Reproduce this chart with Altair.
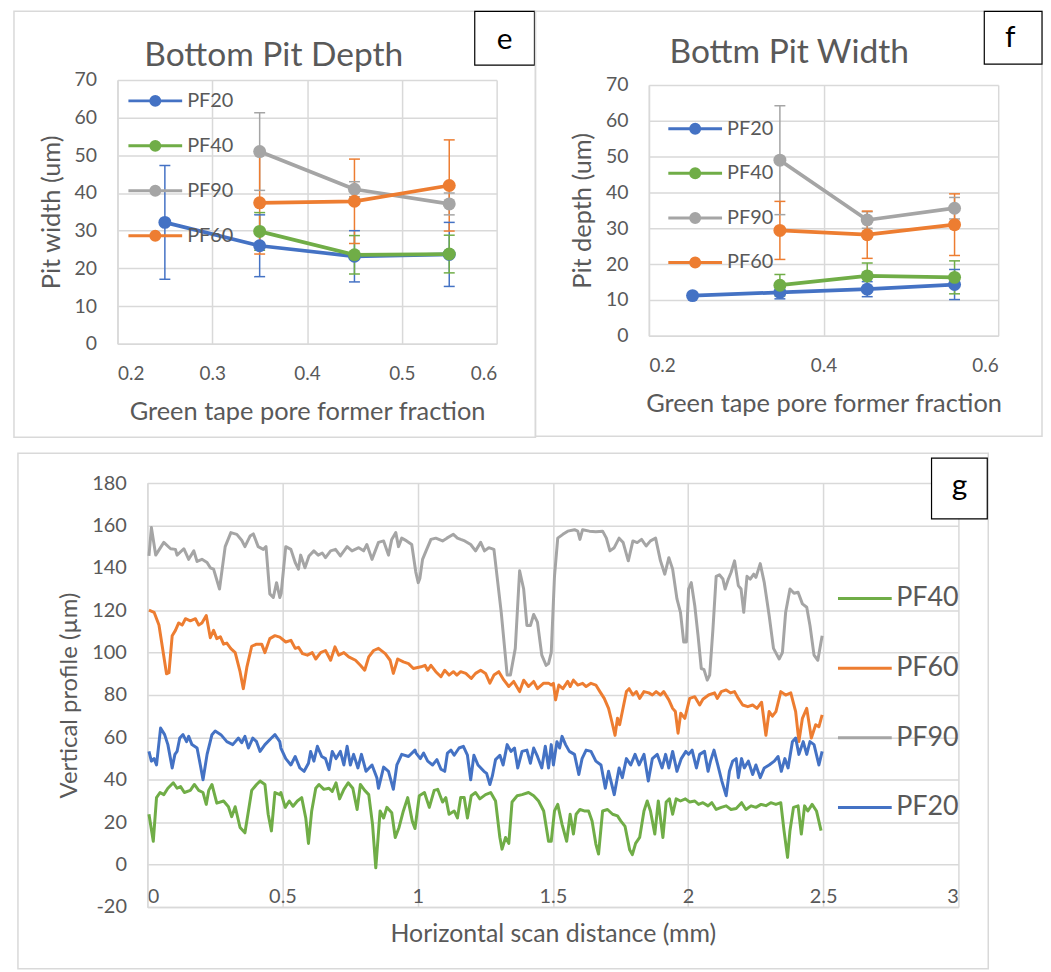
import altair as alt
import pandas as pd

FONT = "Lato"
TXT = "#595959"
GRID = "#D9D9D9"

# ---------------- panel e / f data ----------------
series_ef = ["PF20", "PF40", "PF90", "PF60"]
colors_ef = ["#4472C4", "#70AD47", "#A5A5A5", "#ED7D31"]

e_pf20_x = [0.25, 0.35, 0.45, 0.55]
e_pf20_y = [32.2, 26.0, 23.2, 23.7]
e_pf20_err = [15.1, 8.2, 6.8, 8.5]
e_pf40_x = [0.35, 0.45, 0.55]
e_pf40_y = [29.8, 23.6, 23.8]
e_pf40_err = [5.0, 5.1, 5.0]
e_pf90_x = [0.35, 0.45, 0.55]
e_pf90_y = [51.0, 41.0, 37.1]
e_pf90_err = [10.3, 2.0, 2.9]
e_pf60_x = [0.35, 0.45, 0.55]
e_pf60_y = [37.4, 37.8, 42.0]
e_pf60_err = [13.6, 11.2, 12.1]

f_pf20_x = [0.25, 0.35, 0.45, 0.55]
f_pf20_y = [11.2, 12.1, 13.0, 14.3]
f_pf20_err = [0.0, 1.8, 2.1, 4.2]
f_pf40_x = [0.35, 0.45, 0.55]
f_pf40_y = [14.1, 16.7, 16.3]
f_pf40_err = [3.0, 3.6, 4.6]
f_pf90_x = [0.35, 0.45, 0.55]
f_pf90_y = [49.0, 32.3, 35.6]
f_pf90_err = [15.2, 2.3, 3.0]
f_pf60_x = [0.35, 0.45, 0.55]
f_pf60_y = [29.4, 28.2, 31.0]
f_pf60_err = [8.1, 6.6, 8.6]

ef_ticks_e = [0.2, 0.3, 0.4, 0.5, 0.6]
ef_ticks_f = [0.2, 0.4, 0.6]
ef_yticks = [0, 10, 20, 30, 40, 50, 60, 70]

# ---------------- panel g data (x in mm, y in um) ----------------
series_g = ["PF40", "PF60", "PF90", "PF20"]
colors_g = ["#70AD47", "#ED7D31", "#A5A5A5", "#4472C4"]

pf90_pts = [
    (0.006,145.6),(0.015,159),(0.031,146),(0.061,152),(0.086,149),(0.104,148.7),(0.110,146),(0.135,149),
    (0.153,144),(0.172,148),(0.184,143),(0.202,144),(0.221,142.5),(0.233,140),(0.245,139.4),(0.267,130),
    (0.288,150),(0.309,156.6),(0.331,155.8),(0.349,153),(0.361,150),(0.380,155),(0.392,156),(0.410,150),
    (0.429,148.7),(0.439,150),(0.453,127.7),(0.466,126),(0.478,133),(0.490,126),
    (0.495,128),(0.512,150),(0.531,148.7),(0.547,142.5),(0.559,139.4),(0.567,146),(0.583,140),(0.598,145.6),
    (0.616,148),(0.632,146),(0.647,147),(0.659,144.8),(0.678,148),(0.696,148.7),(0.714,145.6),(0.739,150),
    (0.757,148),(0.782,149.5),(0.800,148),(0.812,151),(0.831,144),(0.855,152),(0.874,152.7),(0.892,146),
    (0.904,153.4),(0.919,156.6),(0.929,150),(0.941,154),(0.959,152.7),(0.978,151),(0.993,138),
    (1.002,133),(1.008,135),(1.018,144),(1.031,148),(1.049,153.4),(1.067,154),(1.092,152.7),(1.108,154),
    (1.132,155.8),(1.147,154),(1.159,153.4),(1.174,152.7),(1.196,151),(1.214,148),(1.233,152),(1.247,148),
    (1.263,149.5),(1.282,148.7),(1.309,119),(1.331,89.4),(1.343,89.4),(1.361,102),(1.377,138.6),(1.392,130),
    (1.404,112.8),(1.417,112.8),(1.429,118),(1.443,114.4),(1.459,98.8),(1.475,94),(1.484,94.8),
    (1.494,100),(1.506,136),(1.518,154),(1.537,155.8),(1.555,157.3),(1.580,158),(1.592,157.3),(1.600,153.4),
    (1.610,158),(1.635,157.3),(1.659,157),(1.684,157.3),(1.698,154),(1.711,148),(1.727,149.5),(1.745,154),
    (1.760,151.9),(1.779,143.3),(1.796,152.7),(1.812,151.9),(1.828,153.4),(1.845,150.3),(1.861,152.7),
    (1.880,154),(1.898,143.3),(1.914,137),(1.929,144.8),(1.943,139.4),(1.959,125.3),(1.972,119),(1.984,105),
    (1.994,105),(2.002,130),(2.012,133),(2.025,122),(2.037,108),(2.049,92.5),(2.059,92),(2.071,87),(2.080,89.4),
    (2.092,111),(2.104,136),(2.116,136.7),(2.129,134.7),(2.137,130),(2.149,134.7),(2.159,137.8),(2.172,143.3),
    (2.186,131.6),(2.196,130),(2.206,119),(2.218,136),(2.230,134.7),(2.243,137),(2.251,135.5),(2.267,142),
    (2.282,133),(2.300,117.5),(2.316,102),(2.337,97),(2.349,100),(2.361,119),(2.377,130),(2.392,128),
    (2.407,128.5),(2.423,123),(2.439,121.4),(2.451,112.8),(2.466,98.8),(2.480,96.4),(2.496,108),
]

pf60_pts = [
    (0.006,120),(0.025,119),(0.043,113),(0.071,90),(0.080,90.5),(0.092,108),(0.104,110.5),(0.116,114),
    (0.129,113),(0.141,116),(0.159,115),(0.178,116),(0.190,113),(0.202,114),(0.218,117.5),(0.233,107),
    (0.245,110.5),(0.257,106.6),(0.270,107.5),(0.282,104),(0.294,104.5),(0.309,101.9),(0.325,100),(0.343,91),
    (0.355,83),(0.368,93),(0.386,103),(0.404,104),(0.423,104),(0.435,100),(0.453,106.6),(0.472,108),(0.490,107.3),
    (0.512,105),(0.531,105.8),(0.547,102),(0.559,102.5),(0.574,99.5),(0.592,98.8),(0.610,100),(0.623,97),
    (0.641,100),(0.659,101),(0.678,96.4),(0.694,102.7),(0.708,98.8),(0.727,100),(0.745,98),(0.770,96.4),
    (0.788,94),(0.804,91.7),(0.819,98),(0.837,101),(0.855,102),(0.880,99.5),(0.898,96.4),(0.910,90.2),
    (0.926,97),(0.947,95.6),(0.966,94.8),(0.984,92.5),
    (1.012,93.3),(1.027,94),(1.037,91.7),(1.049,94),(1.067,91),(1.086,88.6),(1.100,91.7),(1.116,89.4),
    (1.132,91),(1.145,89.4),(1.159,91),(1.178,90.2),(1.198,87.8),(1.214,90.2),(1.233,91.7),(1.251,90.2),
    (1.267,85.6),(1.282,89.4),(1.300,91),(1.319,87),(1.337,84),(1.355,86.4),(1.377,81.6),(1.392,87),
    (1.410,84),(1.429,86.4),(1.443,83),(1.466,85.6),(1.484,85.6),
    (1.494,84.7),(1.502,85.5),(1.510,77.7),(1.522,84.7),(1.537,83),(1.555,86.4),(1.564,84),(1.576,87),
    (1.592,84.7),(1.610,85.5),(1.623,84),(1.641,85.5),(1.659,84.7),(1.674,81.6),(1.690,78.4),(1.706,73.7),
    (1.718,67.5),(1.730,61),(1.739,69),(1.747,66),(1.757,72.2),(1.772,81.6),(1.782,83),(1.796,80),
    (1.809,81.6),(1.821,78.4),(1.837,81.6),(1.855,81),(1.868,80),(1.882,81.6),(1.898,80),(1.910,81.6),
    (1.929,77.7),(1.943,73.7),(1.953,72.2),(1.963,62),(1.973,71.4),(1.988,69),
    (2.006,78.4),(2.025,79.2),(2.043,75.3),(2.055,78),(2.076,80),(2.098,81),(2.108,78.4),(2.123,81.6),
    (2.141,82.4),(2.157,81),(2.172,81.6),(2.186,78.4),(2.202,75.3),(2.221,74.5),(2.239,75.3),(2.255,73.7),
    (2.272,76.6),(2.288,61),(2.300,72.2),(2.312,70),(2.325,72.2),(2.343,81.6),(2.361,80),(2.380,81),
    (2.398,72.2),(2.410,58.1),(2.423,69),(2.439,73.7),(2.456,59.7),(2.472,66),(2.484,65),(2.496,70.6),
]

pf20_pts = [
    (0.006,53.4),(0.015,48.8),(0.025,50),(0.034,47),(0.049,64.4),(0.064,61.3),(0.076,56.6),(0.092,45.6),
    (0.102,52),(0.110,53.4),(0.120,59.7),(0.132,61.3),(0.145,58),(0.153,60.5),(0.165,56.6),(0.184,55),
    (0.196,47),(0.206,40),(0.221,52),(0.239,61.3),(0.251,63),(0.272,61.3),(0.294,58),(0.316,56.6),
    (0.337,59.7),(0.349,57.5),(0.361,60.5),(0.374,55),(0.390,59.7),(0.404,58),(0.417,53.4),(0.435,56.6),
    (0.459,59.7),(0.472,61.3),(0.490,58),
    (0.494,55),(0.512,50),(0.531,47),(0.547,51),(0.564,45.6),(0.580,44),(0.596,47.8),(0.604,53.4),
    (0.616,48.8),(0.629,55.8),(0.645,51),(0.659,50),(0.672,44.8),(0.684,53.4),(0.698,50),(0.714,53.4),
    (0.727,47),(0.739,55.8),(0.751,47),(0.763,52),(0.779,45.6),(0.792,52),(0.809,44),(0.831,47),
    (0.849,41),(0.855,36),(0.874,46),(0.892,44),(0.910,35.5),(0.923,47),(0.941,52),(0.966,51),(0.990,54),
    (0.994,52.6),(1.010,50),(1.022,52.6),(1.037,48.8),(1.055,47),(1.071,49.5),(1.086,45),(1.100,44),
    (1.110,52.6),(1.123,54),(1.135,51.6),(1.153,55),(1.169,55.8),(1.184,51.6),(1.196,40),(1.208,51.6),
    (1.223,47),(1.245,44),(1.255,43),(1.267,37.8),(1.276,41.7),(1.288,49.5),(1.304,51.6),(1.316,47),
    (1.331,56.6),(1.345,53.4),(1.358,55),(1.370,45.6),(1.386,53.4),(1.404,54),(1.417,47.8),(1.429,55),
    (1.443,51),(1.459,45.6),(1.472,55.8),(1.484,45.6),
    (1.494,56.6),(1.502,47),(1.515,58),(1.525,55),(1.534,60.5),(1.547,56.6),(1.561,53.4),(1.580,52),
    (1.596,42.5),(1.608,50),(1.623,54),(1.641,53.4),(1.659,48.8),(1.678,47),(1.694,36),(1.706,44),
    (1.727,33),(1.745,45.6),(1.757,41),(1.772,50),(1.788,47),(1.804,52),(1.819,47),(1.837,52),
    (1.853,39.4),(1.868,50),(1.886,52),(1.904,45.6),(1.917,52),(1.929,45.6),(1.943,53.4),(1.959,44),
    (1.975,50),(1.992,53.4),
    (2.002,52),(2.015,54),(2.031,45.6),(2.043,52),(2.061,53.4),(2.074,44),(2.083,48.8),(2.096,54),
    (2.110,47),(2.125,39.4),(2.141,32.5),(2.153,44),(2.165,48.8),(2.178,50),(2.186,41),(2.198,50),
    (2.208,45.6),(2.223,48.8),(2.239,42.5),(2.251,47),(2.267,41),(2.282,45.6),(2.300,47),(2.319,48.8),
    (2.333,51),(2.345,44),(2.358,50),(2.370,45.6),(2.386,58),(2.398,59.7),(2.410,52),(2.426,58),
    (2.439,52),(2.451,58),(2.466,56.6),(2.484,47),(2.496,53.4),
]

pf40_pts = [
    (0.006,23.75),(0.022,11),(0.034,31.6),(0.047,34),(0.061,33),(0.076,36),(0.096,38.6),(0.110,36),
    (0.123,36.8),(0.137,34),(0.159,35),(0.174,37.8),(0.190,35),(0.206,34),(0.218,28.4),(0.227,35),
    (0.239,37.8),(0.257,29),(0.282,30),(0.300,27.3),(0.312,22.6),(0.325,27.3),(0.343,17.5),(0.361,15),
    (0.374,25.3),(0.386,35),(0.404,37.8),(0.417,39.4),(0.435,37.8),(0.447,23.75),(0.459,15.9),(0.472,34),
    (0.490,33),
    (0.494,34),(0.510,27),(0.525,30),(0.539,27.5),(0.555,30),(0.571,31.6),(0.586,22),(0.596,10),
    (0.608,25.3),(0.623,36),(0.635,37.8),(0.653,35.5),(0.672,36),(0.684,34.5),(0.698,38.6),(0.711,31),
    (0.727,35.5),(0.743,38.6),(0.760,36),(0.776,26),(0.788,37.8),(0.804,35),(0.819,33),(0.833,19),
    (0.845,-1.5),(0.861,25.3),(0.874,22),(0.886,27),(0.904,24.5),(0.917,12.8),(0.931,17.5),(0.947,25.3),
    (0.963,31.6),(0.980,20.5),(0.990,17),
    (1.006,32.5),(1.025,34),(1.043,27),(1.061,35),(1.074,35.5),(1.092,29.5),(1.104,31.6),(1.116,23.75),
    (1.135,25.3),(1.147,22),(1.159,31.6),(1.172,31.6),(1.184,22),(1.198,32.5),(1.214,34),(1.230,31),
    (1.251,33),(1.270,34),(1.288,30),(1.304,12.8),(1.312,7.3),(1.325,12.8),(1.337,10),(1.349,29.5),
    (1.368,32.5),(1.386,33),(1.410,34),(1.429,32.5),(1.447,30),(1.466,25.3),(1.484,11),
    (1.494,11),(1.506,25.3),(1.518,28.4),(1.534,19),(1.551,11),(1.564,23.75),(1.576,14.4),(1.586,23.75),
    (1.600,26),(1.616,25.3),(1.632,25.3),(1.645,20.6),(1.659,9.7),(1.669,5),(1.684,25.3),(1.702,26),
    (1.721,23.75),(1.739,23),(1.751,20.6),(1.767,18),(1.784,7),(1.794,4.7),(1.806,10),(1.821,12.8),
    (1.837,25.3),(1.849,30),(1.861,25.3),(1.877,14.4),(1.890,30),(1.907,12.8),(1.919,29.5),(1.931,31),
    (1.943,23.75),(1.956,31),(1.972,30),(1.990,31),
    (2.006,29.5),(2.025,30),(2.039,28.4),(2.055,29.2),(2.074,27.7),(2.088,29.2),(2.104,26),(2.123,27),
    (2.141,27.7),(2.159,26),(2.178,26.5),(2.198,29.2),(2.214,26),(2.233,27.7),(2.251,27),(2.270,28.4),
    (2.288,27.8),(2.306,29.2),(2.325,28.4),(2.343,29.2),(2.355,16),(2.368,3.4),(2.377,16),(2.390,27),
    (2.407,27.7),(2.419,14.4),(2.431,27.7),(2.443,25.3),(2.459,28.4),(2.475,25.3),(2.492,16),
]

g_xticks = [0, 0.5, 1, 1.5, 2, 2.5, 3]
g_yticks = [-20, 0, 20, 40, 60, 80, 100, 120, 140, 160, 180]

# ---------------- helpers ----------------
one = pd.DataFrame({"k": [0]})


def pit_frame(parts):
    rows = []
    for name, xs, ys, errs in parts:
        for x, y, e in zip(xs, ys, errs):
            rows.append({"x": x, "y": y, "err": e, "series": name, "s2": name,
                         "lo": y - e, "hi": y + e})
    return pd.DataFrame(rows)


# legend glyph: 54px line with a filled 12px dot (concentric stroked rings), unit = 1.5px
EF_SYM = ("M-18,0H18 M-1,0A1,1 0 1,1 1,0A1,1 0 1,1 -1,0 "
          "M-3,0A3,3 0 1,1 3,0A3,3 0 1,1 -3,0")
G_SYM = "M-18,0H18"


def spacer():
    return alt.Chart(one).mark_point(opacity=0).encode(
        x=alt.value(0), y=alt.value(0)).properties(width=1, height=1)


def deco(frame, box, letter, letter_xy, title, title_xy, title_size):
    fx1, fx2, fy1, fy2 = frame
    bx1, bx2, by1, by2 = box
    layers = [
        alt.Chart(one).mark_rect(fillOpacity=0, stroke=GRID, strokeWidth=1.5).encode(
            x=alt.value(fx1), x2=alt.value(fx2), y=alt.value(fy1), y2=alt.value(fy2)),
        alt.Chart(one).mark_rect(fill="white", stroke="black", strokeWidth=1.2).encode(
            x=alt.value(bx1), x2=alt.value(bx2), y=alt.value(by1), y2=alt.value(by2)),
        alt.Chart(one).mark_text(text=letter, font=FONT, fontSize=30, color="black",
                                 align="center", baseline="middle").encode(
            x=alt.value(letter_xy[0]), y=alt.value(letter_xy[1])),
    ]
    if title:
        layers.append(alt.Chart(one).mark_text(text=title, font=FONT, fontSize=title_size,
                                               color=TXT, align="center", baseline="alphabetic").encode(
            x=alt.value(title_xy[0]), y=alt.value(title_xy[1])))
    return layers


def pit_panel(df, W, H, xticks, ytitle, title, title_xy, frame, box, letter, letter_xy,
              leg_xy, leg_rowpad):
    cscale = alt.Scale(domain=series_ef, range=colors_ef)
    xax = alt.Axis(values=xticks, format=".1f", title="Green tape pore former fraction",
                   grid=True, gridColor=GRID, gridWidth=1.5, domainColor=GRID, domainWidth=1.5,
                   ticks=False, tickSize=0, labelFont=FONT, labelFontSize=19, labelColor=TXT,
                   labelPadding=21, titleFont=FONT, titleFontSize=25.5, titleColor=TXT,
                   titleFontWeight="normal", titlePadding=16)
    yax = alt.Axis(values=ef_yticks, title=ytitle, grid=True, gridColor=GRID, gridWidth=1.5,
                   domainColor=GRID, domainWidth=1.5, ticks=False, tickSize=0, labelFont=FONT,
                   labelFontSize=19.5, labelColor=TXT, labelPadding=21, titleFont=FONT,
                   titleFontSize=25.5, titleColor=TXT, titleFontWeight="normal", titlePadding=10)
    leg = alt.Legend(title=None, orient="none", legendX=leg_xy[0], legendY=leg_xy[1], padding=0,
                     symbolType=EF_SYM, symbolSize=9, symbolStrokeWidth=3, symbolOpacity=1,
                     labelFont=FONT, labelFontSize=20, labelColor=TXT, labelOffset=22,
                     rowPadding=leg_rowpad, direction="vertical")
    xs = alt.Scale(domain=[0.2, 0.6], nice=False, zero=False)
    ys = alt.Scale(domain=[0, 70], nice=False)
    X = alt.X("x:Q", scale=xs, axis=xax)
    err = df[df["err"] > 0]
    stroke = alt.Stroke("series:N", scale=cscale, legend=leg)
    rules = alt.Chart(err).mark_rule(strokeWidth=1.5).encode(
        x=X, y=alt.Y("lo:Q", scale=ys, axis=yax), y2="hi:Q", stroke=stroke)
    cap_lo = alt.Chart(err).mark_point(shape="M-1,0H1", size=121, strokeWidth=1.5, opacity=1,
                                       filled=False).encode(
        x=X, y=alt.Y("lo:Q", scale=ys, axis=yax), stroke=stroke)
    cap_hi = alt.Chart(err).mark_point(shape="M-1,0H1", size=121, strokeWidth=1.5, opacity=1,
                                       filled=False).encode(
        x=X, y=alt.Y("hi:Q", scale=ys, axis=yax), stroke=stroke)
    lines = alt.Chart(df).mark_line(strokeWidth=3.75, strokeJoin="round").encode(
        x=X, y=alt.Y("y:Q", scale=ys, axis=yax), stroke=stroke)
    pts = alt.Chart(df).mark_point(shape="circle", filled=True, size=169, opacity=1,
                                   strokeOpacity=0).encode(
        x=X, y=alt.Y("y:Q", scale=ys, axis=yax),
        fill=alt.Fill("s2:N", scale=alt.Scale(domain=series_ef, range=colors_ef), legend=None))
    layers = deco(frame, box, letter, letter_xy, title, title_xy, 33.7)
    return alt.layer(layers[0], rules, cap_lo, cap_hi, lines, pts, *layers[1:]).properties(
        width=W, height=H)


e_df = pit_frame([
    ("PF20", e_pf20_x, e_pf20_y, e_pf20_err),
    ("PF40", e_pf40_x, e_pf40_y, e_pf40_err),
    ("PF90", e_pf90_x, e_pf90_y, e_pf90_err),
    ("PF60", e_pf60_x, e_pf60_y, e_pf60_err),
])
f_df = pit_frame([
    ("PF20", f_pf20_x, f_pf20_y, f_pf20_err),
    ("PF40", f_pf40_x, f_pf40_y, f_pf40_err),
    ("PF90", f_pf90_x, f_pf90_y, f_pf90_err),
    ("PF60", f_pf60_x, f_pf60_y, f_pf60_err),
])

e_chart = pit_panel(e_df, 381, 265, ef_ticks_e, "Pit width (um)", "Bottom Pit Depth", (157, -14),
                    (-104, 420, -69, 359), (359, 419, -69, -15), "e", (389, -40),
                    (28, 11), 23.2)
f_chart = pit_panel(f_df, 351, 252, ef_ticks_f, "Pit depth (um)", "Bottm Pit Width", (141, -22),
                    (-114, 395, -74, 353), (337, 395, -74, -21), "f", (363, -47),
                    (36.5, 34), 22.8)

# ---------------- panel g ----------------
g_rows = []
for name, pts in [("PF40", pf40_pts), ("PF60", pf60_pts), ("PF90", pf90_pts), ("PF20", pf20_pts)]:
    for x, y in pts:
        g_rows.append({"x": x, "y": y, "series": name})
g_df = pd.DataFrame(g_rows)

g_lines = alt.Chart(g_df).mark_line(strokeWidth=3, strokeJoin="round").encode(
    x=alt.X("x:Q", scale=alt.Scale(domain=[0, 3], nice=False, zero=False),
            axis=alt.Axis(values=g_xticks, format="~g", title="Horizontal scan distance (mm)",
                          grid=True, gridColor=GRID, gridWidth=1.5, domainColor=GRID,
                          domainWidth=1.5, ticks=False, tickSize=0, labelFont=FONT,
                          labelFontSize=20, labelColor=TXT, labelBaseline="middle",
                          labelPadding=-11, titleFont=FONT, titleFontSize=25, titleColor=TXT,
                          titleFontWeight="normal", titlePadding=15)),
    y=alt.Y("y:Q", scale=alt.Scale(domain=[-20, 180], nice=False, zero=False),
            axis=alt.Axis(values=g_yticks, labelExpr="replace(datum.label, '\u2212', '-')",
                          title="Vertical profile (\u00b5m)", grid=True, gridColor=GRID,
                          gridWidth=1.5, domainColor=GRID, domainWidth=1.5, ticks=False,
                          tickSize=0, labelFont=FONT, labelFontSize=20, labelColor=TXT,
                          labelPadding=21, titleFont=FONT, titleFontSize=24, titleColor=TXT,
                          titleFontWeight="normal", titlePadding=10)),
    stroke=alt.Stroke("series:N", sort=series_g,
                      scale=alt.Scale(domain=series_g, range=colors_g),
                      legend=alt.Legend(title=None, orient="none", legendX=707.5, legendY=102.5,
                                        padding=0, symbolType=G_SYM, symbolSize=9,
                                        symbolStrokeWidth=3, symbolOpacity=1, labelFont=FONT,
                                        labelFontSize=27, labelColor=TXT, labelOffset=18,
                                        rowPadding=42, direction="vertical")),
)

g_deco = deco((-130, 845, -30, 488), (788, 844, -25, 36), "g", (816, 3), None, None, None)
g_chart = alt.layer(g_deco[0], g_lines, *g_deco[1:]).properties(width=815, height=426)

RES = dict(x="independent", y="independent", stroke="independent", fill="independent")

f_col = alt.vconcat(spacer(), f_chart, spacing=4, bounds="flush").resolve_scale(**RES)
top = alt.hconcat(e_chart, f_col, spacing=153, bounds="flush").resolve_scale(**RES)
g_row = alt.hconcat(spacer(), g_chart, spacing=29, bounds="flush").resolve_scale(**RES)
chart = alt.vconcat(top, g_row, spacing=405, bounds="flush").resolve_scale(**RES).properties(
    padding={"left": 5, "top": 0, "right": 0, "bottom": 0}, background="white"
).configure_view(strokeWidth=0)

chart.save("out.html", embed_options={"renderer": "svg", "actions": False})
